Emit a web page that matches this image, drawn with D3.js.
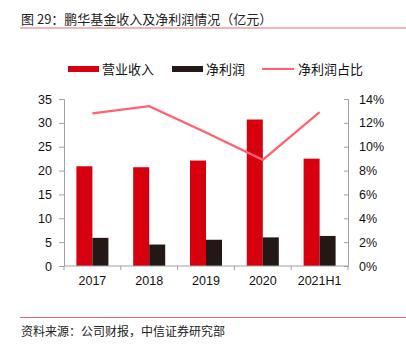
<!DOCTYPE html>
<html><head><meta charset="utf-8">
<script src="https://cdn.jsdelivr.net/npm/d3@7"></script>
<style>
body{margin:0;background:#fff;}
svg text{font-family:"Liberation Sans","Noto Sans CJK SC",sans-serif;}
.cjk{font-family:"Noto Sans CJK SC",sans-serif;}
</style></head><body>
<svg id="c" width="406" height="353"></svg>
<script>
const categories = ["2017","2018","2019","2020","2021H1"];
const revenue = [20.9, 20.7, 22.1, 30.7, 22.5];
const netProfit = [5.9, 4.5, 5.5, 6.0, 6.3];
const profitRatio = [12.8, 13.4, 11.2, 8.9, 12.9];
const leftTicks = [0,5,10,15,20,25,30,35];
const rightTicks = [0,2,4,6,8,10,12,14];

const svg = d3.select("#c");
const L = 64, R = 348, T = 99, B = 266;
const red = "#d7000f", dark = "#231815", pink = "#ff6170", axisCol = "#a0a0a0";

// title
svg.append("text").attr("class","cjk").attr("x",21).attr("y",24).attr("font-size",13).attr("fill","#222")
  .text("图 29：鹏华基金收入及净利润情况（亿元）");
svg.append("line").attr("x1",20).attr("x2",406).attr("y1",28).attr("y2",28).attr("stroke","#e07070").attr("stroke-width",1.2);

const x = d3.scaleBand().domain(categories).range([L,R]);
const y = d3.scaleLinear().domain([0,35]).range([B,T]);
const y2 = d3.scaleLinear().domain([0,14]).range([B,T]);
const bw = 16;

// bars
svg.selectAll(".rev").data(revenue).enter().append("rect")
  .attr("x",(d,i)=>x(categories[i])+x.bandwidth()/2-bw).attr("width",bw)
  .attr("y",d=>y(d)).attr("height",d=>B-y(d)).attr("fill",red);
svg.selectAll(".np").data(netProfit).enter().append("rect")
  .attr("x",(d,i)=>x(categories[i])+x.bandwidth()/2).attr("width",bw)
  .attr("y",d=>y(d)).attr("height",d=>B-y(d)).attr("fill",dark);

// left axis
const ga = svg.append("g").attr("transform",`translate(${L},0)`)
  .call(d3.axisLeft(y).tickValues(leftTicks).tickSize(5).tickPadding(7));
// right axis
const gb = svg.append("g").attr("transform",`translate(${R},0)`)
  .call(d3.axisRight(y2).tickValues(rightTicks).tickSize(-4).tickPadding(11).tickFormat(d=>d+"%"));
// x axis
const gx = svg.append("g").attr("transform",`translate(0,${B})`)
  .call(d3.axisBottom(x).tickSize(0).tickPadding(10));
gx.select(".domain").attr("d",`M${L},0H${R}`);
// category boundary ticks
svg.selectAll(".bt").data(d3.range(categories.length+1)).enter().append("line")
  .attr("x1",i=>L+i*x.step()).attr("x2",i=>L+i*x.step()).attr("y1",B).attr("y2",B+4)
  .attr("stroke",axisCol);
[ga,gb,gx].forEach(g=>{
  g.selectAll(".domain").attr("stroke",axisCol);
  g.selectAll(".tick line").attr("stroke",axisCol);
  g.selectAll("text").attr("font-size",12.5).attr("fill","#111").attr("font-family","Liberation Sans, sans-serif");
});

// line
const line = d3.line().x((d,i)=>x(categories[i])+x.bandwidth()/2).y(d=>y2(d));
svg.append("path").datum(profitRatio).attr("d",line).attr("fill","none").attr("stroke",pink).attr("stroke-width",2.2);

// legend
const lg = svg.append("g");
lg.append("rect").attr("x",68).attr("y",66).attr("width",31).attr("height",6).attr("fill",red);
lg.append("text").attr("class","cjk").attr("x",102).attr("y",74).attr("font-size",13).attr("fill","#111").text("营业收入");
lg.append("rect").attr("x",172).attr("y",66).attr("width",31).attr("height",6).attr("fill",dark);
lg.append("text").attr("class","cjk").attr("x",206).attr("y",74).attr("font-size",13).attr("fill","#111").text("净利润");
lg.append("line").attr("x1",262).attr("x2",294).attr("y1",69).attr("y2",69).attr("stroke",pink).attr("stroke-width",2);
lg.append("text").attr("class","cjk").attr("x",298).attr("y",74).attr("font-size",13).attr("fill","#111").text("净利润占比");

// footer
svg.append("line").attr("x1",20).attr("x2",406).attr("y1",317.5).attr("y2",317.5).attr("stroke","#e07070").attr("stroke-width",1.2);
svg.append("text").attr("class","cjk").attr("x",21).attr("y",336).attr("font-size",12).attr("fill","#222")
  .text("资料来源：公司财报，中信证券研究部");
</script></body></html>
